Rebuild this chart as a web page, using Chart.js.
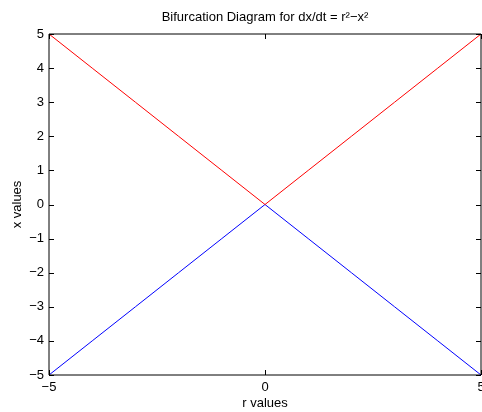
<!DOCTYPE html>
<html>
<head>
<meta charset="utf-8">
<title>Bifurcation Diagram</title>
<script src="https://cdn.jsdelivr.net/npm/chart.js@4/dist/chart.umd.min.js"></script>
<style>
  html, body { margin: 0; padding: 0; background: #fff; overflow: hidden; }
  #wrap { width: 482px; height: 412px; overflow: hidden; }
  canvas { display: block; }
</style>
</head>
<body>
<div id="wrap"><canvas id="c" width="500" height="412"></canvas></div>
<script>
// Parameter r and the two equilibrium branches x = +|r| and x = -|r|
const rValues = [-5, -4, -3, -2, -1, 0, 1, 2, 3, 4, 5];
const upperBranch = [5, 4, 3, 2, 1, 0, 1, 2, 3, 4, 5];
const lowerBranch = [-5, -4, -3, -2, -1, 0, -1, -2, -3, -4, -5];
const xTicks = [-5, 0, 5];
const yTicks = [-5, -4, -3, -2, -1, 0, 1, 2, 3, 4, 5];

const FONT = 'Liberation Sans, Arial, Helvetica, sans-serif';
const SIZE = 13;
const minus = v => (v < 0 ? '\u2212' + Math.abs(v) : String(v));
const toPoints = ys => rValues.map((r, i) => ({ x: r, y: ys[i] }));

// Box around the axes with inward-pointing tick marks on all four sides
const boxTicks = {
  id: 'boxTicks',
  afterDraw(chart) {
    const { ctx, chartArea: a, scales } = chart;
    const len = 5;
    ctx.save();
    ctx.strokeStyle = '#000';
    ctx.lineWidth = 1;
    ctx.beginPath();
    ctx.rect(a.left, a.top, a.right - a.left, a.bottom - a.top);
    xTicks.forEach(v => {
      const px = Math.round(scales.x.getPixelForValue(v)) + 0.5;
      ctx.moveTo(px, a.bottom); ctx.lineTo(px, a.bottom - len);
      ctx.moveTo(px, a.top); ctx.lineTo(px, a.top + len);
    });
    yTicks.forEach(v => {
      const py = Math.round(scales.y.getPixelForValue(v)) + 0.5;
      ctx.moveTo(a.left, py); ctx.lineTo(a.left + len, py);
      ctx.moveTo(a.right, py); ctx.lineTo(a.right - len, py);
    });
    ctx.stroke();
    ctx.restore();
  }
};

new Chart(document.getElementById('c'), {
  type: 'line',
  data: {
    datasets: [
      { data: toPoints(upperBranch), borderColor: '#ff0000', borderWidth: 1, pointRadius: 0, fill: false, tension: 0 },
      { data: toPoints(lowerBranch), borderColor: '#0000ff', borderWidth: 1, pointRadius: 0, fill: false, tension: 0 }
    ]
  },
  options: {
    responsive: false,
    animation: false,
    devicePixelRatio: 1,
    layout: { padding: { left: 0, right: 19, top: 0, bottom: 0 } },
    plugins: {
      legend: { display: false },
      tooltip: { enabled: false },
      title: {
        display: true,
        fullSize: false,
        text: 'Bifurcation Diagram for dx/dt = r\u00B2\u2212x\u00B2',
        color: '#000',
        font: { family: FONT, size: SIZE, weight: 'normal' },
        padding: { top: 10, bottom: 8.4 }
      }
    },
    scales: {
      x: {
        type: 'linear',
        min: -5, max: 5,
        afterBuildTicks: s => { s.ticks = xTicks.map(v => ({ value: v })); },
        afterFit: s => { s.height = 37; },
        grid: { display: false, drawTicks: false },
        border: { display: false },
        ticks: { color: '#000', font: { family: FONT, size: SIZE }, padding: 5, maxRotation: 0, autoSkip: false, callback: minus },
        title: { display: true, text: 'r values', color: '#000', font: { family: FONT, size: SIZE }, padding: { top: 0, bottom: 0.5 } }
      },
      y: {
        type: 'linear',
        min: -5, max: 5,
        afterBuildTicks: s => { s.ticks = yTicks.map(v => ({ value: v })); },
        afterFit: s => { s.width = 49; },
        grid: { display: false, drawTicks: false },
        border: { display: false },
        ticks: { color: '#000', font: { family: FONT, size: SIZE }, padding: 5, autoSkip: false, callback: minus },
        title: { display: true, text: 'x values', color: '#000', font: { family: FONT, size: SIZE }, padding: { top: 9.7, bottom: 0 } }
      }
    }
  },
  plugins: [boxTicks]
});
</script>
</body>
</html>
